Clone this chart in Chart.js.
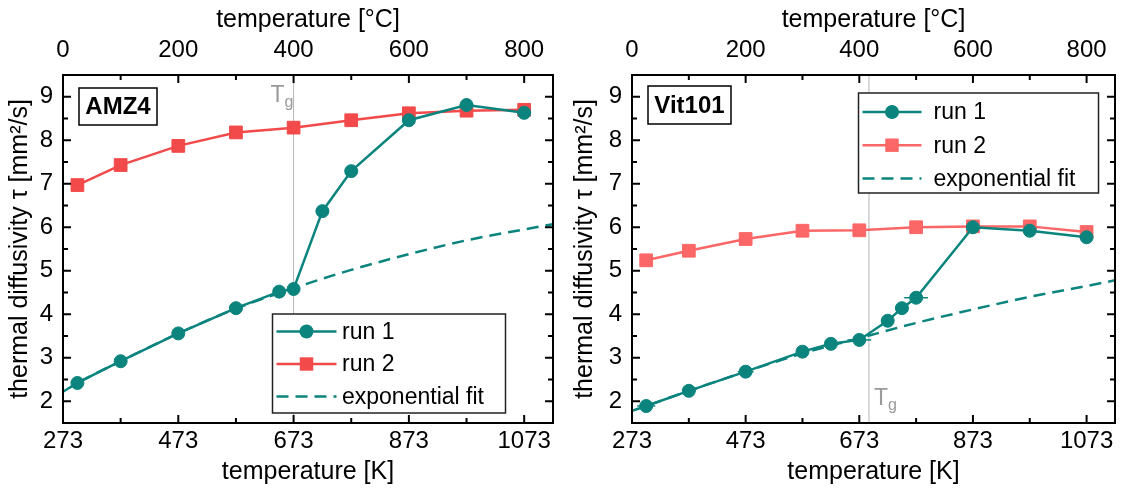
<!DOCTYPE html>
<html>
<head>
<meta charset="utf-8">
<script src="https://cdn.jsdelivr.net/npm/chart.js@4.4.0/dist/chart.umd.min.js"></script>
<style>
  html, body { margin: 0; padding: 0; background: #fff; }
  #wrap { position: relative; width: 1125px; height: 490px; }
  .pane { position: absolute; top: 0; height: 490px; }
  #left { left: 0; width: 565px; }
  #right { left: 565px; width: 560px; }
</style>
</head>
<body>
<div id="wrap">
  <div class="pane" id="left"><canvas id="amz4" width="565" height="490"></canvas></div>
  <div class="pane" id="right"><canvas id="vit101" width="560" height="490"></canvas></div>
</div>
<script>
/* tick labels */
const kTicks = [273, 473, 673, 873, 1073];
const kMinor = [373, 573, 773, 973];
const cTicks = [0, 200, 400, 600, 800];
const cMinor = [100, 300, 500, 700];
const yTicks = [2, 3, 4, 5, 6, 7, 8, 9];
const yMinor = [2.5, 3.5, 4.5, 5.5, 6.5, 7.5, 8.5];

/* AMZ4 */
const amzRun1T = [298, 373, 473, 573, 648, 673, 723, 773, 873, 973, 1073];
const amzRun1 = [2.42, 2.92, 3.56, 4.14, 4.52, 4.58, 6.37, 7.29, 8.46, 8.81, 8.63];
const amzRun2T = [298, 373, 473, 573, 673, 773, 873, 973, 1073];
const amzRun2 = [6.97, 7.43, 7.87, 8.18, 8.29, 8.46, 8.62, 8.68, 8.70];
const amzFitT = [273, 298, 373, 473, 573, 673, 773, 873, 973, 1073, 1123];
const amzFit = [2.22, 2.42, 2.92, 3.56, 4.13, 4.60, 5.02, 5.38, 5.70, 5.95, 6.07];
const amzTg = 673;

/* Vit101 */
const vitRun1T = [298, 373, 473, 573, 623, 673, 723, 748, 773, 873, 973, 1073];
const vitRun1 = [1.89, 2.24, 2.68, 3.14, 3.32, 3.41, 3.85, 4.14, 4.38, 6.00, 5.92, 5.77];
const vitRun1Err = [16, 12, 14, 10, 10, 21, 11, 12, 21, 0, 0, 0];
const vitRun2T = [298, 373, 473, 573, 673, 773, 873, 973, 1073];
const vitRun2 = [5.24, 5.46, 5.73, 5.92, 5.93, 6.00, 6.02, 6.02, 5.89];
const vitFitT = [273, 298, 373, 473, 573, 673, 773, 873, 973, 1073, 1123];
const vitFit = [1.78, 1.89, 2.24, 2.68, 3.10, 3.45, 3.80, 4.11, 4.40, 4.65, 4.78];
const vitTg = 690;

const TEAL = "#0b847e";
const FONT = "'Liberation Sans', Arial, sans-serif";

Chart.defaults.font.family = FONT;
Chart.defaults.color = "#000";

const pts = (xs, ys) => xs.map((x, i) => ({ x, y: ys[i] }));

/* frame + inward ticks */
const frame = {
  id: "frame",
  afterDatasetsDraw(chart) {
    const { ctx, chartArea: a, scales } = chart;
    ctx.save();
    ctx.strokeStyle = "#000";
    ctx.lineWidth = 2;
    const tick = (x1, y1, x2, y2) => {
      ctx.beginPath(); ctx.moveTo(x1, y1); ctx.lineTo(x2, y2); ctx.stroke();
    };
    kTicks.forEach(v => { const p = scales.x.getPixelForValue(v); tick(p, a.bottom, p, a.bottom - 8); });
    kMinor.forEach(v => { const p = scales.x.getPixelForValue(v); tick(p, a.bottom, p, a.bottom - 5); });
    cTicks.forEach(v => { const p = scales.xTop.getPixelForValue(v); tick(p, a.top, p, a.top + 8); });
    cMinor.forEach(v => { const p = scales.xTop.getPixelForValue(v); tick(p, a.top, p, a.top + 5); });
    yTicks.forEach(v => {
      const p = scales.y.getPixelForValue(v);
      tick(a.left, p, a.left + 8, p); tick(a.right, p, a.right - 8, p);
    });
    yMinor.forEach(v => {
      const p = scales.y.getPixelForValue(v);
      tick(a.left, p, a.left + 5, p); tick(a.right, p, a.right - 5, p);
    });
    ctx.strokeRect(a.left, a.top, a.right - a.left, a.bottom - a.top);
    ctx.restore();
  }
};

/* glass transition marker */
const tgLine = {
  id: "tgLine",
  beforeDatasetsDraw(chart, args, o) {
    const { ctx, chartArea: a, scales } = chart;
    const x = scales.x.getPixelForValue(o.value);
    ctx.save();
    ctx.strokeStyle = "#b4b4b4";
    ctx.lineWidth = 1;
    ctx.beginPath(); ctx.moveTo(x, a.top); ctx.lineTo(x, a.bottom); ctx.stroke();
    ctx.fillStyle = "#9a9a9a";
    ctx.textBaseline = "alphabetic";
    ctx.font = "23px " + FONT;
    const tw = ctx.measureText("T").width;
    const tx = o.side === "left" ? x - o.dx - tw - 9 : x + o.dx;
    ctx.textAlign = "left";
    ctx.fillText("T", tx, o.y);
    ctx.font = "16px " + FONT;
    ctx.fillText("g", tx + tw, o.y + 5);
    ctx.restore();
  }
};

/* horizontal error bars */
const errBars = {
  id: "errBars",
  afterDatasetsDraw(chart) {
    const { ctx, scales } = chart;
    chart.data.datasets.forEach(ds => {
      if (!ds.xErr) return;
      ctx.save();
      ctx.strokeStyle = ds.borderColor;
      ctx.lineWidth = 1.5;
      ds.data.forEach((p, i) => {
        const e = ds.xErr[i];
        if (!e) return;
        const y = scales.y.getPixelForValue(p.y);
        ctx.beginPath();
        ctx.moveTo(scales.x.getPixelForValue(p.x - e), y);
        ctx.lineTo(scales.x.getPixelForValue(p.x + e), y);
        ctx.stroke();
      });
      ctx.restore();
    });
  }
};

function marker(ctx, style, r, x, y) {
  ctx.beginPath();
  if (style === "rect") {
    const s = r * Math.SQRT1_2;
    ctx.rect(x - s, y - s, 2 * s, 2 * s);
  } else {
    ctx.arc(x, y, r, 0, Math.PI * 2);
  }
  ctx.fill();
}

/* boxed legend and sample label */
const boxes = {
  id: "boxes",
  afterDraw(chart, args, o) {
    const { ctx } = chart;
    ctx.save();
    // sample name
    const n = o.name;
    ctx.fillStyle = "#fff";
    ctx.fillRect(n.x, n.y, n.w, n.h);
    ctx.strokeStyle = "#000";
    ctx.lineWidth = 1.5;
    ctx.strokeRect(n.x, n.y, n.w, n.h);
    ctx.fillStyle = "#000";
    ctx.font = "bold 24px " + FONT;
    ctx.textAlign = "center";
    ctx.textBaseline = "middle";
    ctx.fillText(n.text, n.x + n.w / 2, n.y + n.h / 2 + 1);

    // legend
    const l = o.legend;
    ctx.fillStyle = "#fff";
    ctx.fillRect(l.x, l.y, l.w, l.h);
    ctx.strokeStyle = "#222";
    ctx.lineWidth = 1.5;
    ctx.strokeRect(l.x, l.y, l.w, l.h);
    ctx.font = "23px " + FONT;
    ctx.textAlign = "left";
    chart.data.datasets.forEach((ds, i) => {
      const cy = l.y + l.top + i * l.row;
      const x0 = l.x + 4, x1 = x0 + l.sample;
      ctx.strokeStyle = ds.borderColor;
      ctx.lineWidth = ds.borderWidth;
      ctx.setLineDash(ds.borderDash || []);
      ctx.beginPath(); ctx.moveTo(x0, cy); ctx.lineTo(x1, cy); ctx.stroke();
      ctx.setLineDash([]);
      if (ds.pointRadius > 0) {
        ctx.fillStyle = ds.backgroundColor;
        marker(ctx, ds.pointStyle, ds.pointRadius + 0.5, (x0 + x1) / 2, cy);
      }
      ctx.fillStyle = "#000";
      ctx.fillText(ds.label, l.x + l.text, cy + 1);
    });
    ctx.restore();
  }
};

function axes(yWidth, rWidth) {
  const tickFont = { size: 24 };
  const titleFont = { size: 25 };
  return {
    x: {
      type: "linear", position: "bottom", min: 273, max: 1123,
      afterBuildTicks: s => { s.ticks = kTicks.map(v => ({ value: v })); },
      afterFit: s => { s.height = 67; },
      grid: { display: false, drawTicks: false }, border: { display: false },
      ticks: { font: tickFont, color: "#000", padding: 4, maxRotation: 0, autoSkip: false, callback: v => String(v) },
      title: { display: true, text: "temperature [K]", font: titleFont, color: "#000", padding: { top: 0, bottom: 3 } }
    },
    xTop: {
      type: "linear", position: "top", min: 0, max: 850,
      afterBuildTicks: s => { s.ticks = cTicks.map(v => ({ value: v })); },
      afterFit: s => { s.height = 75; },
      grid: { display: false, drawTicks: false }, border: { display: false },
      ticks: { font: tickFont, color: "#000", padding: 10, maxRotation: 0, autoSkip: false, callback: v => String(v) },
      title: { display: true, text: "temperature [°C]", font: titleFont, color: "#000", padding: { top: 5, bottom: 0 } }
    },
    y: {
      position: "left", min: 1.5, max: 9.5,
      afterBuildTicks: s => { s.ticks = yTicks.map(v => ({ value: v })); },
      afterFit: s => { s.width = yWidth; },
      grid: { display: false, drawTicks: false }, border: { display: false },
      ticks: { font: tickFont, color: "#000", padding: 10, callback: v => String(v) },
      title: { display: true, text: "thermal diffusivity τ [mm²/s]", font: titleFont, color: "#000", padding: { top: 5, bottom: 0 } }
    },
    yRight: {
      position: "right", min: 1.5, max: 9.5,
      afterFit: s => { s.width = rWidth; },
      grid: { display: false, drawTicks: false }, border: { display: false },
      ticks: { display: false }
    }
  };
}

function series(run1, run2, fit, red, err) {
  return [
    {
      label: "run 1", data: run1, xErr: err,
      borderColor: TEAL, backgroundColor: TEAL, borderWidth: 2.5,
      pointStyle: "circle", pointRadius: 6.5, pointBorderWidth: 1
    },
    {
      label: "run 2", data: run2,
      borderColor: red, backgroundColor: red, borderWidth: 2.5,
      pointStyle: "rect", pointRadius: 9, pointBorderWidth: 1
    },
    {
      label: "exponential fit", data: fit,
      borderColor: TEAL, backgroundColor: TEAL, borderWidth: 2.5, borderDash: [12, 7],
      pointRadius: 0, cubicInterpolationMode: "monotone"
    }
  ];
}

function makeChart(id, datasets, yWidth, rWidth, extra) {
  return new Chart(document.getElementById(id), {
    type: "line",
    data: { datasets },
    options: {
      responsive: false,
      animation: false,
      layout: { padding: 0 },
      scales: axes(yWidth, rWidth),
      plugins: {
        legend: { display: false },
        tooltip: { enabled: false },
        tgLine: extra.tg,
        boxes: extra.boxes
      }
    },
    plugins: [tgLine, frame, errBars, boxes]
  });
}

makeChart("amz4",
  series(pts(amzRun1T, amzRun1), pts(amzRun2T, amzRun2), pts(amzFitT, amzFit), "#f24a4a", null),
  63, 12,
  {
    tg: { value: amzTg, side: "left", dx: 0, y: 102 },
    boxes: {
      name: { text: "AMZ4", x: 79, y: 88, w: 78, h: 37 },
      legend: { x: 272.5, y: 314, w: 233, h: 99, top: 17.5, row: 32.5, sample: 60, text: 69.5 }
    }
  });

makeChart("vit101",
  series(pts(vitRun1T, vitRun1), pts(vitRun2T, vitRun2), pts(vitFitT, vitFit), "#fb6666", vitRun1Err),
  67, 4,
  {
    tg: { value: vitTg, side: "right", dx: 5, y: 405 },
    boxes: {
      name: { text: "Vit101", x: 83, y: 86, w: 83, h: 38 },
      legend: { x: 293.5, y: 93, w: 240, h: 100, top: 19, row: 33.2, sample: 59, text: 75 }
    }
  });
</script>
</body>
</html>
